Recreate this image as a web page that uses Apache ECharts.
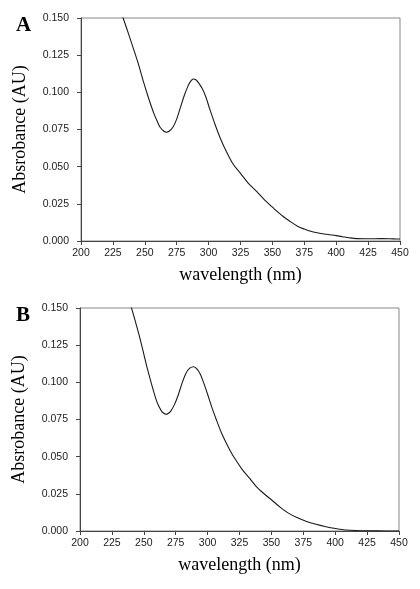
<!DOCTYPE html>
<html>
<head>
<meta charset="utf-8">
<script src="https://cdn.jsdelivr.net/npm/echarts@6/dist/echarts.min.js"></script>
<style>
html,body{margin:0;padding:0;background:#fff;}
#chart{width:420px;height:589px;}
</style>
</head>
<body>
<div id="chart"></div>
<script>
// ---- data ----
const panelLabels = ['A', 'B'];
const xTicks = [200, 225, 250, 275, 300, 325, 350, 375, 400, 425, 450];
const yTicks = [0.000, 0.025, 0.050, 0.075, 0.100, 0.125, 0.150];
const xTitle = 'wavelength (nm)';
const yTitle = 'Absrobance (AU)';

const wavelengthA = [225, 233, 237, 241, 245, 249, 253, 257, 260, 262, 265, 267, 269, 272, 275, 278, 281, 284, 286, 288, 290, 292, 295, 298, 301, 305, 309, 314, 319, 325, 331, 338, 344, 351, 358, 365, 370, 375, 380, 386, 392, 400, 405, 410, 416, 425, 435, 445, 450];
const absorbanceA = [0.169, 0.150, 0.140, 0.1296, 0.119, 0.107, 0.096, 0.086, 0.080, 0.0765, 0.0738, 0.0732, 0.0738, 0.0765, 0.082, 0.090, 0.098, 0.1045, 0.1075, 0.109, 0.1085, 0.1065, 0.1025, 0.0965, 0.0885, 0.0785, 0.0695, 0.060, 0.052, 0.0455, 0.039, 0.033, 0.0275, 0.022, 0.0168, 0.0125, 0.0098, 0.008, 0.0065, 0.0054, 0.0045, 0.0036, 0.0029, 0.0022, 0.0016, 0.0015, 0.0016, 0.0014, 0.0013];

const wavelengthB = [235, 240, 244, 247, 250, 253, 257, 260, 262, 264, 266, 267.5, 269, 271, 274, 277, 280, 283, 286, 289, 291, 294, 297, 300, 303, 307, 311, 315, 319, 323, 327, 333, 338, 344, 350, 357, 363, 370, 377, 385, 392, 399, 405, 412, 420, 430, 440, 450];
const absorbanceB = [0.163, 0.151, 0.139, 0.1296, 0.119, 0.1085, 0.096, 0.0875, 0.0835, 0.0805, 0.079, 0.0785, 0.079, 0.0805, 0.085, 0.0915, 0.0995, 0.106, 0.1095, 0.1105, 0.1095, 0.106, 0.0995, 0.092, 0.084, 0.0745, 0.0657, 0.0585, 0.052, 0.0466, 0.0415, 0.0354, 0.030, 0.0252, 0.021, 0.0159, 0.0122, 0.009, 0.0066, 0.0045, 0.003, 0.0018, 0.001, 0.0005, 0.0002, 0.0001, 0.0, 0.0];

// ---- chart ----
const grids = [
  {left: 81, top: 18, width: 319, height: 223},
  {left: 80, top: 308, width: 319, height: 223}
];
const pairs = [[wavelengthA, absorbanceA], [wavelengthB, absorbanceB]];
const labelFont = 'Liberation Sans, Arial, sans-serif';
const serif = 'Liberation Serif, Times New Roman, serif';

const chart = echarts.init(document.getElementById('chart'), null, {renderer: 'canvas'});
chart.setOption({
  animation: false,
  backgroundColor: '#fff',
  title: panelLabels.map((t, i) => ({
    text: t, left: 16, top: grids[i].top - 3, padding: 0,
    textStyle: {fontFamily: serif, fontWeight: 'bold', fontSize: 21, color: '#000'}
  })),
  grid: grids.map(g => Object.assign({show: true, borderColor: '#888', borderWidth: 1, containLabel: false}, g)),
  xAxis: grids.map((g, i) => ({
    type: 'value', gridIndex: i,
    min: xTicks[0], max: xTicks[xTicks.length - 1], interval: xTicks[1] - xTicks[0],
    name: xTitle, nameLocation: 'middle', nameGap: 25,
    nameTextStyle: {fontFamily: serif, fontSize: 18, color: '#000', verticalAlign: 'top'},
    axisLine: {show: true, onZero: false, lineStyle: {color: '#444', width: 1}},
    axisTick: {show: true, inside: false, length: 4, lineStyle: {color: '#444'}},
    axisLabel: {margin: 7, fontFamily: labelFont, fontSize: 10.5, color: '#222'},
    splitLine: {show: false}
  })),
  yAxis: grids.map((g, i) => ({
    type: 'value', gridIndex: i,
    min: yTicks[0], max: yTicks[yTicks.length - 1], interval: yTicks[1] - yTicks[0],
    name: yTitle, nameLocation: 'middle', nameGap: 52, nameRotate: 90,
    nameTextStyle: {fontFamily: serif, fontSize: 18, color: '#000'},
    axisLine: {show: true, onZero: false, lineStyle: {color: '#444', width: 1}},
    axisTick: {show: true, inside: false, length: 4, lineStyle: {color: '#444'}},
    axisLabel: {margin: 12, fontFamily: labelFont, fontSize: 10.5, color: '#222',
      formatter: v => v.toFixed(3)},
    splitLine: {show: false}
  })),
  series: pairs.map((p, i) => ({
    type: 'line', xAxisIndex: i, yAxisIndex: i,
    data: p[0].map((x, k) => [x, p[1][k]]),
    showSymbol: false, smooth: 0.3, clip: true,
    lineStyle: {color: '#1a1a1a', width: 1.1}
  }))
});
</script>
</body>
</html>
